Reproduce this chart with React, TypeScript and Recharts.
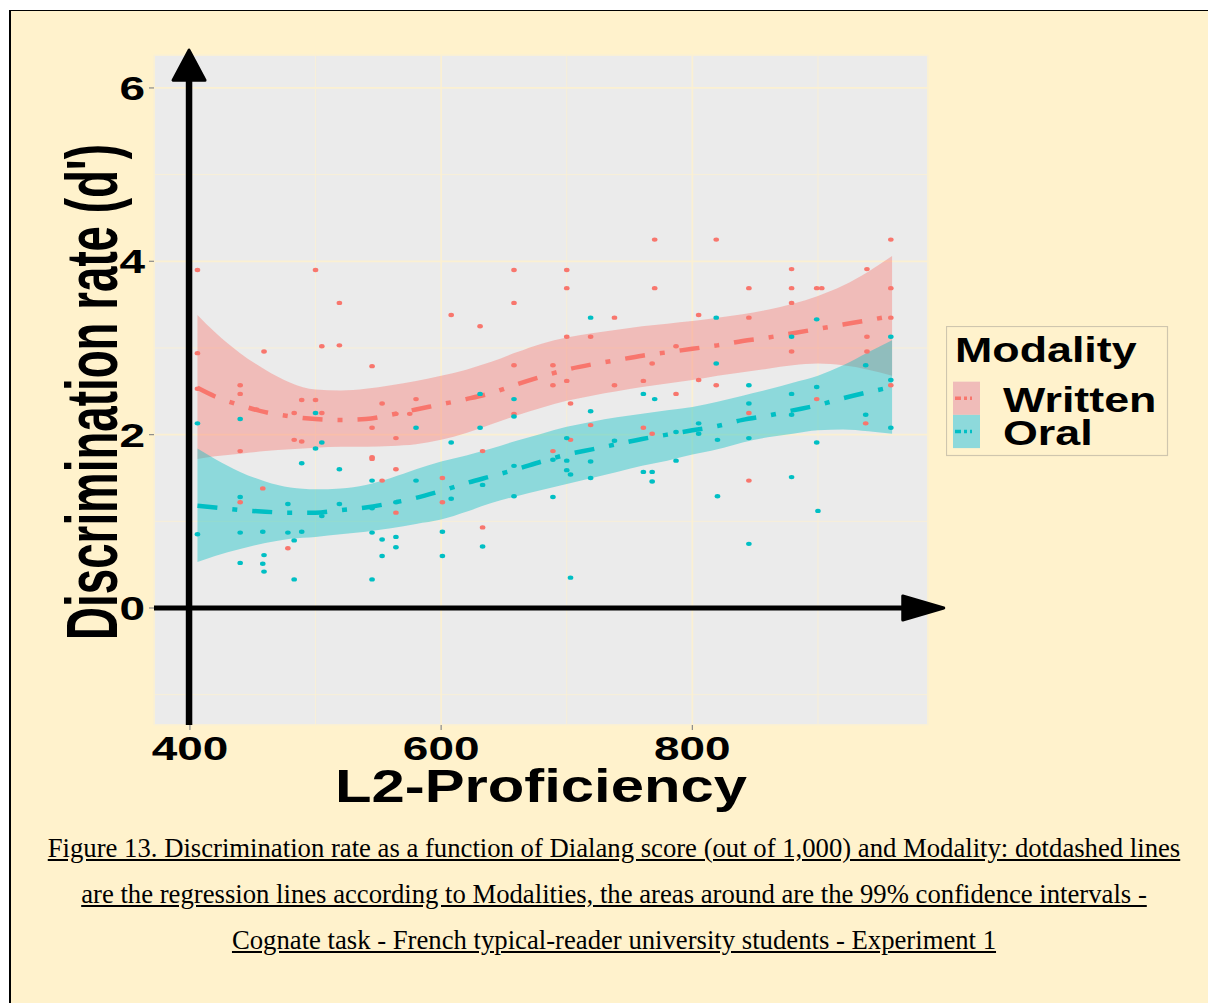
import React from 'react';
import {
  ComposedChart, Area, Line, Scatter, XAxis, YAxis, CartesianGrid,
  ReferenceLine, ReferenceDot, Legend, Label,
} from 'recharts';

// smooth fit + 99% CI
const curveX = [406, 420, 440, 460, 480, 500, 520, 540, 560, 580, 600, 620, 640, 660, 680, 700, 720, 740, 760, 780, 800, 820, 840, 860, 880, 900, 920, 940, 959];
const writtenFit = [2.54, 2.44, 2.34, 2.26, 2.21, 2.18, 2.17, 2.18, 2.23, 2.29, 2.35, 2.41, 2.48, 2.58, 2.67, 2.75, 2.81, 2.86, 2.91, 2.95, 2.99, 3.03, 3.08, 3.12, 3.17, 3.22, 3.27, 3.32, 3.37];
const writtenLow = [1.72, 1.75, 1.78, 1.81, 1.83, 1.85, 1.86, 1.86, 1.87, 1.89, 1.94, 2.02, 2.12, 2.22, 2.31, 2.39, 2.45, 2.50, 2.55, 2.59, 2.63, 2.68, 2.72, 2.76, 2.80, 2.82, 2.80, 2.75, 2.68];
const writtenHigh = [3.38, 3.18, 2.94, 2.75, 2.60, 2.52, 2.51, 2.53, 2.57, 2.62, 2.68, 2.75, 2.84, 2.95, 3.05, 3.12, 3.17, 3.21, 3.25, 3.28, 3.31, 3.35, 3.39, 3.44, 3.51, 3.60, 3.72, 3.88, 4.06];
const oralFit = [1.18, 1.16, 1.13, 1.11, 1.10, 1.10, 1.13, 1.16, 1.21, 1.27, 1.35, 1.44, 1.52, 1.60, 1.69, 1.77, 1.83, 1.89, 1.95, 2.00, 2.05, 2.10, 2.17, 2.22, 2.28, 2.34, 2.42, 2.49, 2.55];
const oralLow = [0.53, 0.60, 0.68, 0.75, 0.80, 0.82, 0.85, 0.88, 0.92, 0.97, 1.02, 1.11, 1.21, 1.29, 1.36, 1.43, 1.50, 1.57, 1.64, 1.70, 1.77, 1.83, 1.91, 1.97, 2.01, 2.05, 2.06, 2.04, 2.01];
const oralHigh = [1.84, 1.72, 1.57, 1.46, 1.39, 1.37, 1.38, 1.42, 1.50, 1.60, 1.69, 1.76, 1.84, 1.93, 2.01, 2.09, 2.15, 2.20, 2.24, 2.28, 2.32, 2.38, 2.45, 2.52, 2.60, 2.68, 2.80, 2.95, 3.09];

// raw observations [dialang score, d']
const writtenPoints = [
  [406, 3.9], [500, 3.9], [519, 3.52], [505, 3.02], [519, 3.03], [406, 2.94], [459, 2.96], [545, 2.79],
  [406, 2.53], [440, 2.57], [440, 2.47], [489, 2.40], [500, 2.40], [453, 2.29], [483, 2.25], [505, 2.25],
  [553, 2.36], [564, 2.24], [575, 2.24], [770, 4.25], [658, 3.9], [700, 3.9], [700, 3.69], [770, 3.69],
  [658, 3.52], [608, 3.38], [631, 3.25], [738, 3.35], [700, 3.13], [719, 3.13], [658, 2.80], [689, 2.80],
  [768, 2.82], [689, 2.57], [700, 2.62], [738, 2.57], [761, 2.62], [580, 2.41], [703, 2.36], [658, 2.24],
  [819, 4.25], [958, 4.25], [879, 3.91], [939, 3.91], [845, 3.69], [879, 3.69], [899, 3.69], [903, 3.69],
  [958, 3.69], [879, 3.52], [805, 3.38], [845, 3.35], [958, 3.35], [939, 3.13], [787, 3.02], [879, 2.96],
  [939, 2.96], [805, 2.63], [819, 2.57], [958, 2.57], [787, 2.47], [899, 2.41], [845, 2.25],
  [440, 1.81], [483, 1.94], [489, 1.92], [545, 1.74], [545, 1.72], [564, 1.60], [553, 1.47], [458, 1.38],
  [440, 1.22], [564, 1.10], [478, 0.69], [545, 2.08], [564, 1.96], [719, 2.11], [761, 2.08], [768, 2.01],
  [703, 1.94], [633, 1.81], [689, 1.81], [601, 1.50], [601, 1.22], [633, 0.93], [938, 2.13], [845, 1.47],
];
const oralPoints = [
  [500, 2.25], [440, 2.18], [406, 2.13], [500, 1.84], [505, 1.91], [489, 1.67], [519, 1.60], [545, 1.47],
  [440, 1.28], [478, 1.20], [519, 1.20], [545, 1.15], [564, 1.22], [505, 1.06], [406, 0.85], [440, 0.87],
  [458, 0.88], [478, 0.87], [489, 0.88], [483, 0.78], [545, 0.87], [553, 0.79], [564, 0.82], [564, 0.70],
  [459, 0.61], [553, 0.60], [440, 0.52], [458, 0.51], [459, 0.42], [483, 0.33], [545, 0.33],
  [719, 3.35], [631, 2.47], [658, 2.41], [761, 2.47], [770, 2.41], [719, 2.27], [658, 2.21],
  [819, 3.35], [899, 3.33], [879, 3.13], [958, 3.13], [819, 2.82], [938, 2.80], [958, 2.63], [845, 2.57],
  [899, 2.55], [879, 2.47], [845, 2.36], [879, 2.23], [938, 2.23],
  [580, 2.08], [631, 2.08], [608, 1.91], [700, 1.96], [738, 1.93], [689, 1.71], [700, 1.70], [719, 1.69],
  [658, 1.64], [700, 1.59], [703, 1.54], [719, 1.50], [761, 1.57], [768, 1.57], [768, 1.46], [580, 1.47],
  [633, 1.42], [608, 1.26], [658, 1.29], [689, 1.28], [601, 0.88], [633, 0.71], [601, 0.60], [703, 0.35],
  [805, 2.13], [787, 2.03], [805, 2.01], [820, 1.94], [845, 1.96], [958, 2.08], [899, 1.91], [787, 1.70],
  [879, 1.51], [820, 1.29], [900, 1.12], [845, 0.74],
];

const xTicks = [400, 600, 800];
const xMinor = [500, 700, 900];
const yTicks = [0, 2, 4, 6];
const yMinor = [-1, 1, 3, 5];

const legendItems = [
  { name: 'Written', color: '#F8766D' },
  { name: 'Oral', color: '#00BFC4' },
];

const captionLines = [
  'Figure 13. Discrimination rate as a function of Dialang score (out of 1,000) and Modality: dotdashed lines',
  'are the regression lines according to Modalities, the areas around are the 99% confidence intervals -',
  'Cognate task - French typical-reader university students - Experiment 1',
];

const curveData = curveX.map((x, i) => ({
  x,
  writtenFit: writtenFit[i],
  oralFit: oralFit[i],
  writtenBand: [writtenLow[i], writtenHigh[i]],
  oralBand: [oralLow[i], oralHigh[i]],
}));
const writtenData = writtenPoints.map(([x, y]) => ({ x, y }));
const oralData = oralPoints.map(([x, y]) => ({ x, y }));

const FONT = '"Liberation Sans", Arial, Helvetica, sans-serif';
const CREAM = '#FFF2CC';
const GRID = '#FBF0D2';
const X_DOMAIN: [number, number] = [371.4, 987.6];
const Y_DOMAIN: [number, number] = [-1.35, 6.38];
const DOTDASH = '20 15 5 15';

const YTick = (props: any) => {
  const { x, y, payload } = props;
  return (
    <text transform={`translate(${x},${y + 12}) scale(1.35,1)`} textAnchor="end"
      fontSize={34} fontWeight="bold" fontFamily={FONT} fill="#000">{payload.value}</text>
  );
};

const XTick = (props: any) => {
  const { x, y, payload } = props;
  return (
    <text transform={`translate(${x},${y + 26}) scale(1.35,1)`} textAnchor="middle"
      fontSize={34} fontWeight="bold" fontFamily={FONT} fill="#000">{payload.value}</text>
  );
};

const XTitle = (props: any) => {
  const vb = props.viewBox;
  return (
    <text transform={`translate(${vb.x + vb.width / 2},${vb.y + 77}) scale(1.3,1)`} textAnchor="middle"
      fontSize={46} fontWeight="bold" fontFamily={FONT} fill="#000">L2-Proficiency</text>
  );
};

const YTitle = (props: any) => {
  const vb = props.viewBox;
  return (
    <text transform={`translate(117,${vb.y + vb.height / 2 + 2}) scale(1.6,1) rotate(-90)`} textAnchor="middle"
      fontSize={45.7} fontWeight="bold" fontFamily={FONT} fill="#000">Discrimination rate (d')</text>
  );
};

const dot = (color: string) => (props: any) => (
  <ellipse cx={props.cx} cy={props.cy} rx={2.8} ry={2.2} fill={color} />
);

const UpHead = (props: any) => (
  <polygon points={`${props.cx - 16},${props.cy} ${props.cx + 16},${props.cy} ${props.cx},${props.cy - 30}`}
    fill="#000" stroke="#000" strokeWidth={3} strokeLinejoin="round" />
);
const RightHead = (props: any) => (
  <polygon points={`${props.cx},${props.cy - 12} ${props.cx},${props.cy + 12} ${props.cx + 41},${props.cy}`}
    fill="#000" stroke="#000" strokeWidth={3} strokeLinejoin="round" />
);

const LegendBox = () => (
  <svg width={223} height={131} style={{ display: 'block' }}>
    <rect x={0.5} y={0.5} width={221} height={129} fill={CREAM} stroke="#CFC6AE" strokeWidth={1.2} />
    <text transform="translate(9,35.7) scale(1.28,1)" fontSize={35} fontWeight="bold" fontFamily={FONT} fill="#000">Modality</text>
    {legendItems.map((it, i) => {
      const top = 55.7 + i * 33.2;
      return (
        <g key={it.name}>
          <rect x={7} y={top} width={27} height={33.2} fill="#EBEBEB" />
          <rect x={7} y={top} width={27} height={33.2} fill={it.color} fillOpacity={0.4} />
          <line x1={9} x2={26} y1={top + 16.6} y2={top + 16.6} stroke={it.color} strokeWidth={3.5} strokeDasharray="6 3 3 3" />
          <text transform={`translate(57,${top + 30}) scale(1.28,1)`} fontSize={35} fontWeight="bold" fontFamily={FONT} fill="#000">{it.name}</text>
        </g>
      );
    })}
  </svg>
);

export default function App() {
  return (
    <div style={{ position: 'absolute', left: 0, top: 0, width: 1208, height: 1003, background: '#fff', overflow: 'hidden' }}>
      <div style={{
        position: 'absolute', left: 9, top: 10, width: 1199, height: 993, background: CREAM,
        borderTop: '1.5px solid #000', borderLeft: '2px solid #000', boxSizing: 'border-box',
      }} />
      <div style={{ position: 'absolute', left: 0, top: 0 }}>
        <ComposedChart width={1208} height={830} data={curveData}
          margin={{ top: 55, right: 280, bottom: 104, left: 153 }}>
          <CartesianGrid fill="#EBEBEB" stroke={GRID} strokeWidth={0.8} xAxisId="minor" yAxisId="minor" />
          <CartesianGrid stroke={GRID} strokeWidth={1.7} />
          <XAxis dataKey="x" type="number" domain={X_DOMAIN} allowDataOverflow ticks={xTicks}
            height={1} axisLine={false} tickLine={{ stroke: '#8a8a8a', strokeWidth: 1.2 }} tickSize={5} tickMargin={4}
            tick={<XTick />} interval={0}>
            <Label content={<XTitle />} />
          </XAxis>
          <YAxis type="number" domain={Y_DOMAIN} allowDataOverflow ticks={yTicks}
            width={1} axisLine={false} tickLine={{ stroke: '#8a8a8a', strokeWidth: 1.2 }} tickSize={5} tickMargin={4}
            tick={<YTick />} interval={0}>
            <Label content={<YTitle />} />
          </YAxis>
          <XAxis xAxisId="minor" dataKey="x" type="number" domain={X_DOMAIN} allowDataOverflow ticks={xMinor} hide />
          <YAxis yAxisId="minor" type="number" domain={Y_DOMAIN} allowDataOverflow ticks={yMinor} hide />
          <Area dataKey="writtenBand" type="monotone" stroke="none" fill="#F8766D" fillOpacity={0.4} isAnimationActive={false} />
          <Area dataKey="oralBand" type="monotone" stroke="none" fill="#00BFC4" fillOpacity={0.4} isAnimationActive={false} />
          <Line dataKey="writtenFit" type="monotone" stroke="#F8766D" strokeWidth={4.5} strokeDasharray={DOTDASH} dot={false} isAnimationActive={false} />
          <Line dataKey="oralFit" type="monotone" stroke="#00BFC4" strokeWidth={4.5} strokeDasharray={DOTDASH} dot={false} isAnimationActive={false} />
          <Scatter data={writtenData} dataKey="y" fill="#F8766D" shape={dot('#F8766D')} isAnimationActive={false} />
          <Scatter data={oralData} dataKey="y" fill="#00BFC4" shape={dot('#00BFC4')} isAnimationActive={false} />
          <ReferenceLine segment={[{ x: 399.3, y: -1.35 }, { x: 399.3, y: 6.1 }]} stroke="#000" strokeWidth={6.5} ifOverflow="visible" />
          <ReferenceLine segment={[{ x: 371.4, y: 0 }, { x: 968, y: 0 }]} stroke="#000" strokeWidth={5} ifOverflow="visible" />
          <ReferenceDot x={399.3} y={6.09} shape={UpHead} ifOverflow="visible" />
          <ReferenceDot x={967.5} y={0} shape={RightHead} ifOverflow="visible" />
          <Legend layout="vertical" align="center" verticalAlign="middle" content={<LegendBox />}
            wrapperStyle={{ left: 946, top: 326, width: 223, height: 131 }} />
        </ComposedChart>
      </div>
      {captionLines.map((line, i) => (
        <div key={i} style={{
          position: 'absolute', left: 0, width: 1228, top: 824.7 + i * 46, lineHeight: '46px',
          textAlign: 'center', fontFamily: '"Liberation Serif", "Times New Roman", serif', fontSize: 26.7,
          textDecoration: 'underline', color: '#000', whiteSpace: 'nowrap',
        }}>{line}</div>
      ))}
    </div>
  );
}
